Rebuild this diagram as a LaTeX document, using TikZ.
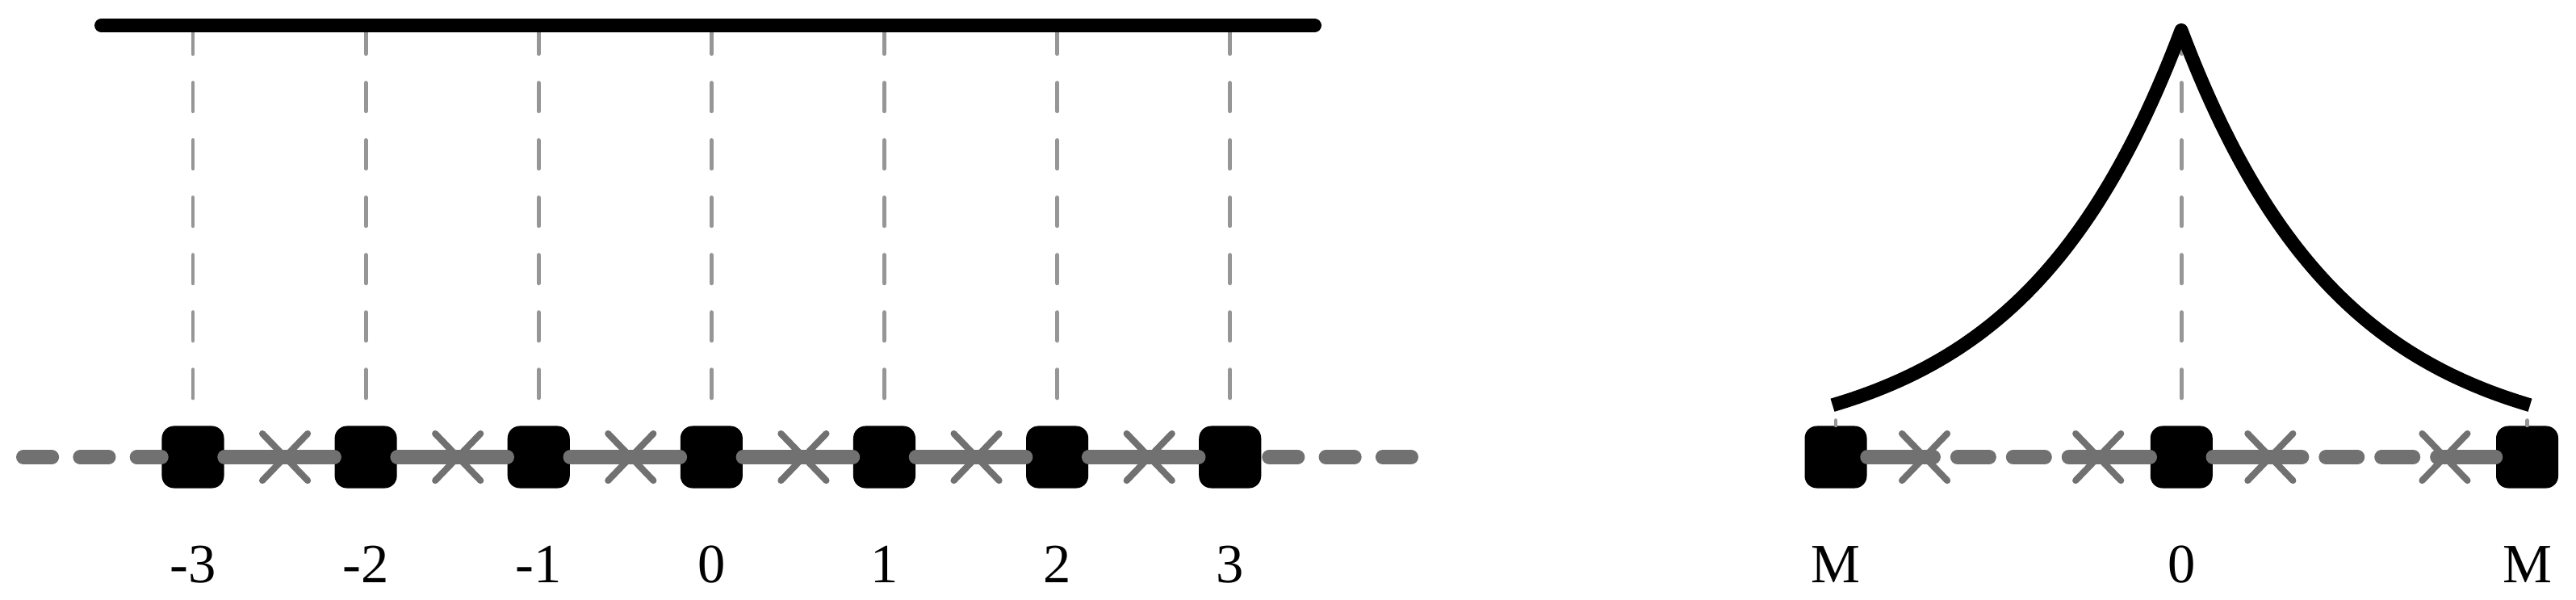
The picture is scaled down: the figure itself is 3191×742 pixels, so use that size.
\documentclass[tikz,border=0pt]{standalone}
\usepackage{fontspec}
\setmainfont{Liberation Serif}
\usetikzlibrary{positioning,shapes.misc}
\definecolor{railgray}{HTML}{717171}
\definecolor{guidegray}{HTML}{969696}

\begin{document}
\begin{tikzpicture}[x=0.01cm, y=-0.01cm, node distance={21.4mm},
    main/.style = {fill=black, rounded corners=4.3pt, minimum width=7.7mm, minimum height=7.7mm, inner sep=0pt},
    xmark/.style = {cross out, draw=railgray, line width=2.3pt, line cap=round, minimum width=4.8mm, minimum height=5mm, inner sep=0pt},
    lbl/.style = {inner sep=0pt, font=\fontsize{19.5}{20}\selectfont},
    rail/.style = {draw=railgray, line width=5.1pt, line cap=round},
    railgap/.style = {rail, dash pattern=on 10pt off 10pt},
    guide/.style = {draw=guidegray, line width=1.4pt, line cap=round, dash pattern=on 10pt off 10.2pt},
    heavy/.style = {line width=4.8pt}]
    \useasboundingbox (0,0) rectangle (3191,742);
    % left chain
    \node[main] (1) at (239,566) {};
    \foreach \i [count=\j from 2] in {1,...,6}
        \node[main] (\j) [right of=\i] {};
    \foreach \i in {1,...,6}
        \node[xmark] (x\i) [right of=\i, node distance=11.4mm] {};
    % right chain
    \node[main] (8) at (2274,566) {};
    \node[main] (9) [right of=8, node distance=42.8mm] {};
    \node[main] (10) [right of=9, node distance=42.8mm] {};
    \node[xmark] (r1) [right of=8, node distance=11mm] {};
    \node[xmark] (r2) [left of=9, node distance=10.3mm] {};
    \node[xmark] (r3) [right of=9, node distance=11mm] {};
    \node[xmark] (r4) [left of=10, node distance=10.2mm] {};
    \foreach \i/\t in {1/-3,2/-2,3/-1,4/0,5/1,6/2,7/3,8/M,9/0,10/M}
        \node[lbl] (l\i) [below of=\i, node distance=13.3mm] {\t};
    % guides
    \coordinate (bl) at (125.5,31.5);
    \coordinate (br) at (1628.5,31.5);
    \coordinate (cl) at (2270,501.7);
    \coordinate (cr) at (3134,501.7);
    \foreach \i in {1,...,7}
        \draw[guide] (\i |- bl) -- (\i.north);
    \draw[guide] (9 |- bl) -- (9.north);
    \draw[guide, dash phase=14.8pt] (8 |- cl) -- (8.north);
    \draw[guide, dash phase=14.8pt] (10 |- cr) -- (10.north);
    \draw[heavy, line cap=round] (bl) -- (br);
    \draw[heavy, line join=round] plot[domain=-432:432, samples=145] ({2702+\x}, {560-522.5*exp(-abs(\x)/197)});
    % rails
    \coordinate (lt) at (29,566);
    \coordinate (rt) at (1748,566);
    \draw[railgap] (lt) -- (1);
    \foreach \i [count=\j from 2] in {1,...,6}
        \draw[rail] (\i) -- (\j);
    \draw[railgap] (rt) -- (7);
    \draw[rail] (8) -- (r1.center) (r2.center) -- (9) -- (r3.center) (r4.center) -- (10);
    \draw[railgap, dash pattern=on 11.1pt off 8.5pt, dash phase=8pt] (r1.center) -- (r2.center);
    \draw[railgap, dash pattern=on 11.1pt off 8.5pt] (r3.center) -- (r4.center);
\end{tikzpicture}
\end{document}
